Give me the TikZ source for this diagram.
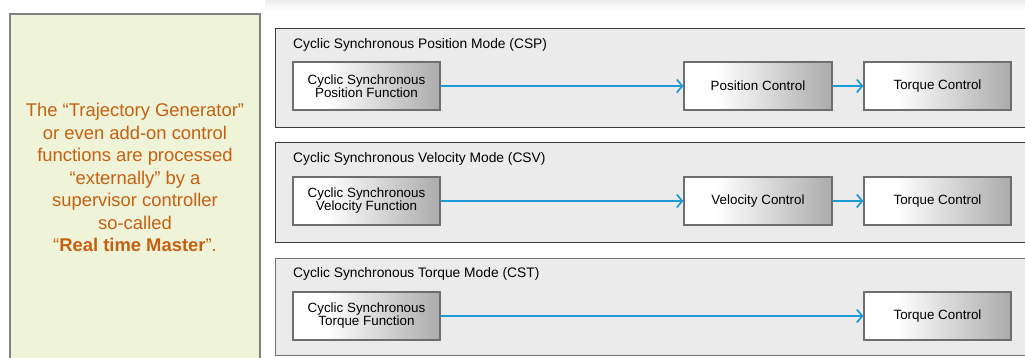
\documentclass[tikz,border=0pt]{standalone}
\usepackage{fontspec}
\setmainfont{Liberation Sans}
\usetikzlibrary{arrows.meta}
\definecolor{notefill}{RGB}{239,243,216}
\definecolor{noteedge}{RGB}{128,128,128}
\definecolor{notetext}{RGB}{197,96,18}
\definecolor{panelfill}{RGB}{235,235,235}
\definecolor{paneledge}{RGB}{60,60,60}
\definecolor{flowblue}{RGB}{27,154,214}
\definecolor{boxedge}{RGB}{110,110,110}
% white on the left, then a soft fade to grey at the right edge
\pgfdeclarehorizontalshading{blockshade}{100bp}{%
  color(0bp)=(white); color(36bp)=(white); color(75bp)=(black!33); color(100bp)=(black!33)}
\tikzset{
  panel/.style={draw=paneledge, line width=1.3bp, fill=panelfill, anchor=north west, inner sep=0pt},
  paneltitle/.style={anchor=west, inner sep=0pt, font=\fontsize{13.8bp}{13bp}\selectfont},
  block/.style={draw=boxedge, line width=1.2bp, shading=blockshade,
    minimum width=147bp, minimum height=48bp, inner sep=0pt, align=center,
    font=\fontsize{13.4bp}{13bp}\selectfont},
  flow/.style={draw=flowblue, line width=1.7bp, -{Straight Barb[length=5.5bp,width=13bp,line width=1.7bp]}},
}
\begin{document}
\begin{tikzpicture}[x=1bp,y=-1bp]
\useasboundingbox (0,0) rectangle (1025,357);
\clip (0,0) rectangle (1025,357);
\fill[white] (0,0) rectangle (1025,357);
% faint strip below the slide heading
\shade[top color=black!7, bottom color=white] (265,0) rectangle (1025,10);

% note on the left
\node[draw=noteedge, line width=2bp, fill=notefill, anchor=north west, inner sep=0pt,
      minimum width=250bp, minimum height=360bp] (note) at (9,13) {};
\node[text=notetext, align=center, inner sep=0pt,
      font=\fontsize{18.4bp}{22.5bp}\selectfont] (notetxt) at (135,177.5)
  {The “Trajectory Generator”\\or even add-on control\\functions are processed\\“externally” by a\\supervisor controller\\so-called\\“\textbf{Real time Master}”.};

% CSP
\node[panel, minimum width=760bp, minimum height=99bp] (csp) at (275,28) {};
\node[paneltitle] (csptitle) at (293,45) {Cyclic Synchronous Position Mode (CSP)};
\node[block] (cspf) at (366.5,86) {Cyclic Synchronous\\Position Function};
\node[block, minimum width=148bp] (posc) at (758,86) {Position Control};
\node[block] (torq1) at (937.5,86) {Torque Control};
\draw[flow] (cspf) -- (posc);
\draw[flow] (posc) -- (torq1);

% CSV
\node[panel, minimum width=760bp, minimum height=100bp] (csv) at (275,142) {};
\node[paneltitle] (csvtitle) at (293,159) {Cyclic Synchronous Velocity Mode (CSV)};
\node[block] (csvf) at (366.5,201) {Cyclic Synchronous\\Velocity Function};
\node[block, minimum width=148bp] (velc) at (758,201) {Velocity Control};
\node[block] (torq2) at (937.5,201) {Torque Control};
\draw[flow] (csvf) -- (velc);
\draw[flow] (velc) -- (torq2);

% CST
\node[panel, draw=black!55, minimum width=760bp, minimum height=97bp] (cst) at (275,258) {};
\node[paneltitle] (csttitle) at (293,274) {Cyclic Synchronous Torque Mode (CST)};
\node[block] (cstf) at (366.5,316) {Cyclic Synchronous\\Torque Function};
\node[block] (torq3) at (937.5,316) {Torque Control};
\draw[flow] (cstf) -- (torq3);
\end{tikzpicture}
\end{document}
